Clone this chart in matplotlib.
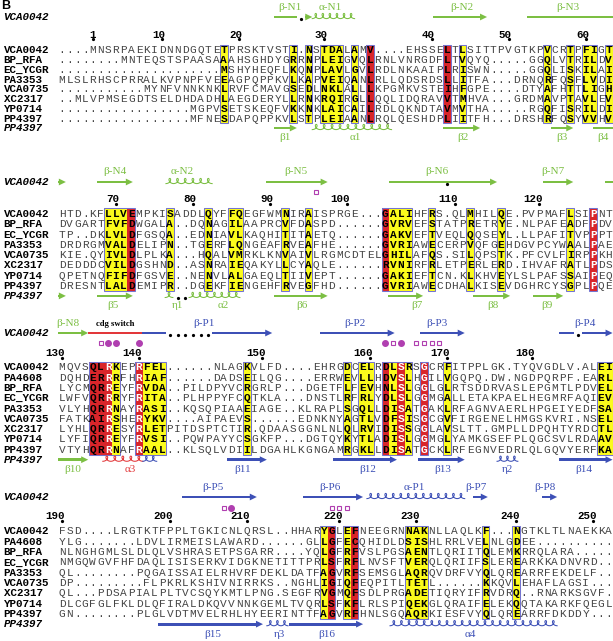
import numpy as np
import matplotlib
matplotlib.use("Agg")
import matplotlib.pyplot as plt
from matplotlib.patches import Rectangle, Polygon

# sequence names
names_a = ["VCA0042", "BP_RFA", "EC_YCGR", "PA3353", "VCA0735", "XC2317", "YP0714", "PP4397"]
names_b = ["VCA0042", "PA4608", "BP_RFA", "EC_YCGR", "PA3353", "VCA0735", "XC2317", "YP0714", "PP4397"]

# block 1
seq1 = [
    "....MNSRPAEKIDNNDGQTETPRSKTVSTI.NSTDALAMV....EHSSELTLSITTPVGTKPVCRTPFIGT",
    "........MNTEQSTSPAASAAAHSGHDYGRRNPLEIGVQLRNLVNRGDFLTVQYQ.....GGQLVTRILDV",
    ".....................MSHYHEQFLKQNPLAVLGVLRDLNKAAIPLRISWN.....GGQLISKILAI",
    "MLSLRHSCPRRALKVPNPFVEEAGPQPPKVLKAPVEIQANLRLLQDSRDSLLITFA...DRNQRFQSFLVDI",
    "...........MYNFVNNKNKLRVFCMAVGSEDLNKLALLLKPGMKVSTEIHFGPE....DTYAFHTTLIGH",
    "..MLVPMSEGDTSELDHDADHLAEGDERYLLRNKRQIRGLLQQLIDQRAVVTMHVA...GRDMAVPTAVLEV",
    ".................MGPVSETSKEQFVKKNKLAICAILRDLQKNDTAVMVTHA.....RGQFISRILDI",
    ".................MFNESDAPQPPKVLSTPLEIAANLRQLQESHDPLIITFH...DRSHRFQSYVVHV",
]
yellow1 = [22, 31, 33, 35, 36, 37, 39, 53, 64, 67, 69, 70, 72]
red1 = [41, 51]

# block 2
seq2 = [
    "HTD.KFLLVEMPKISADDLQYFFQEGFWMNIRAISPRGE...GALIHFRS.QLMHILQE.PVPMAFLSIPNT",
    "DVGARTFVFDWGALA..DQNAGILAAPRCVFDASPD......GVRVEFSTATPRETRYE.NLPAFEADFPDV",
    "TP..DKLVLDFGSQA..EDNIAVLKAQHITITAETQ......GAKVEFTVEQLQQSEYL.LLPAFITVPPPT",
    "DRDRGMVALDELIPN..TGERFLQNGEAFRVEAFHE......GVRIAWECERPVQFGEHDGVPCYWAALPAE",
    "KIE.QYIVLDLPLKA...HQALVMRKLKNVAIVLRGMCDTELGHILAFQS.SILQPSTK.PFCVLFIRPPKH",
    "DEDDDCVILDGSHND..ASNRAIEQAKYLLCYAQLE......RVNIRFRLETPERLERD.IHVAFRATLPDS",
    "QPETNQFIFDFGSVE..NENVLALGAEQLTIIVEPT......GAKIEFTCN.KLKHVEYLSLPAFSSAIPEQ",
    "DRESNTLALDEMIPR..DGEKFIENGEHFRVEGFHD......GVRIAWECDHALKISEVDGHRCYSGPLPQE",
]
yellow2 = [7, 8, 9, 15, 20, 23, 24, 30, 33, 44, 45, 46, 49, 54, 58, 67]
red2 = [10, 43, 70]

# block 3
seq3 = [
    "MQVSQLRKEPRFEL......NLAGKVLFD....EHRGDCELRDLSRSGCRFITPPLGK.TYQVGDLV.ALEI",
    "DQHDERRRFHRIAF......DADSEILQG....ERRWEVLLHDVSLHGILVGQPQ.DW.NGDPQRPF.EARL",
    "LYCMQRREYFRVDA..PILDPYVCRGRLP...DGETFLFEVHNLSLGGLGLRTSDDRVASLEPGMTLPDVEL",
    "LWFVQRRRYFRITA..PLHPPYFCQTKLA...DNSTLRFRLYDLSLGGMGALLETAKPAELHEGMRFAQIEV",
    "VLYHQRRNAYRASI..KQSQPIAAEIAGE..KLRAPLSGQLLDISATGAKLRFAGNVAERLHPGEIYEDFSA",
    "FATKAIRSHERYKV....AIPAEVS......EDNKNYAGTLVDFSISGCGVFIRGENELHMGSKVRI.NSEL",
    "LYHLQRRESYRLETPITDSPTCTIR.QDAASGGNLNLQLRVIDISSGGLAVSLTT.GMPLLDPQHTYRDCTL",
    "LYFIQRREYFRVSI..PQWPAYYCSGKFP...DGTQYKYTLADISLGGMGLYAMKGSEFPLQGCSVLRDAAV",
    "VTYHQRRNAFRAAL..KLSQLVDIILDGAHLKGNGAMRGKLLDISATGCKLRFEGNVEDRLQLGQVYERFKA",
]
yellow3 = [8, 12, 13, 14, 25, 38, 40, 41, 44, 46, 51, 71, 72]
red3 = [5, 6, 7, 11, 43, 45, 48]

# block 4
seq4 = [
    "FSD....LRGTKTFPPLTGKICNLQRSL..HHARYGLEFNEEGRNNAKNLLAQLKF...NGTKLTLNAEKKA",
    "YLG.......LDVLIRMEISLAWARD......GLLGFECQHIDLDSISHLRRLVELNLGDEE..........",
    "NLNGHGMLSLDLQLVSHRASETPSGARR....YQLGFRFVSLPGSAENTLQRIITQLEMKRRQLARA.....",
    "NMGQWGVFHFDAQLISISERKVIDGKNETITTPRLSFRFLNVSFTVERQLQRIIFSLEREARKKADNVRD..",
    "QL........PQGAISSAIELRHVRFDEKLDATFAGVRFSEMSGLAQRQVDRFVYQLQREARRFEKDELF..",
    "DP.........FLPKRLKSHIVNIRRKS..NGHLIGIQFEQPITLTETL......KKQVLEHAFLAGSI...",
    "QL...PDSAPIALPLTVCSQYKMTLPNG.SEGFRVGMQFSDLPRGADETIQRYIFRVDRQ..RNARKSGVF.",
    "DLCGFGLFKLDLQFIRALDKQVVNNKGEMLTVQRLSFKFLRLSPIQEKGLQRAIFELEKQQTAKARKFQEGL",
    "GN........PLGLVDTMVELRHLHYEERINTTFAGVRFHNLSGQAQRKIESFVYQLQREARRFDKDDY...",
]
yellow4 = [35, 38, 46, 47, 48, 56, 60]
red4 = [36, 39]

# first VCA0042 residue of each block
start_res = [1, 64, 130, 190]

# secondary structure: (kind, first col, last col, colour, label, label col, gap cols)
ss1_top = [
    ("strand", 29, 33, "g", "β-N1", 30.6, [32]),
    ("helix", 34, 38.5, "g", "α-N1", 35.8, []),
    ("strand", 49.7, 55.7, "g", "β-N2", 52.9, []),
    ("bar", 61.9, 72, "g", "β-N3", 66.7, []),
]
ss1_bot = [
    ("strand", 29, 31, "g", "β1", 30.0, []),
    ("helix", 34, 43.3, "g", "α1", 39.1, []),
    ("strand", 51, 54.8, "g", "β2", 53.1, []),
    ("strand", 65, 66.9, "g", "β3", 65.9, []),
    ("bar", 70.5, 72, "g", "β4", 71.3, []),
]
ss2_top = [
    ("strand", 1, 1, "g", "", 0, []),
    ("strand", 6, 9.7, "g", "β-N4", 7.9, []),
    ("helix", 15, 20, "g", "α-N2", 16.6, []),
    ("strand", 28, 35, "g", "β-N5", 31.4, []),
    ("strand", 44, 57, "g", "β-N6", 49.7, []),
    ("strand", 64, 66.9, "g", "β-N7", 64.8, []),
    ("bar", 72, 72, "g", "", 0, []),
]
ss2_bot = [
    ("strand", 1, 1, "g", "", 0, []),
    ("strand", 6, 9.7, "g", "β5", 7.6, []),
    ("helix", 14.9, 14.9, "g", "η1", 16.0, []),
    ("helix", 18, 23.6, "g", "α2", 21.9, []),
    ("strand", 29, 35, "g", "β6", 32.2, []),
    ("strand", 43.8, 47.4, "g", "β7", 47.1, []),
    ("strand", 54.9, 58.7, "g", "β8", 57.0, []),
    ("strand", 62.7, 65.6, "g", "β9", 64.0, []),
]
ss3_top = [
    ("strand", 1, 3.9, "g", "β-N8", 1.8, []),
    ("bar", 4.9, 10.9, "r", "cdg switch", 7.9, []),
    ("strand", 11.9, 27.8, "b", "β-P1", 19.4, [15, 16, 17, 18, 19, 20]),
    ("strand", 35, 43.7, "b", "β-P2", 39.1, []),
    ("strand", 48, 52.8, "b", "β-P3", 49.7, []),
    ("strand", 66, 72, "b", "β-P4", 68.9, [68]),
]
ss3_bot = [
    ("strand", 1, 3.9, "g", "β10", 2.4, []),
    ("helix", 6.8, 11, "r", "α3", 9.8, []),
    ("helix", 12, 12.8, "b", "", 0, []),
    ("strand", 22.9, 27.1, "b", "β11", 24.5, []),
    ("strand", 36.7, 44, "b", "β12", 40.7, []),
    ("strand", 47.7, 52.8, "b", "β13", 50.5, []),
    ("helix", 58, 59.7, "b", "η2", 58.8, []),
    ("strand", 66, 72, "b", "β14", 68.7, []),
]
ss4_top = [
    ("strand", 17.1, 25.8, "b", "β-P5", 20.6, []),
    ("strand", 32.8, 39.6, "b", "β-P6", 35.8, []),
    ("helix", 41.1, 52.8, "b", "α-P1", 46.8, []),
    ("strand", 54.9, 55.8, "b", "β-P7", 54.8, []),
    ("strand", 63.9, 64.8, "b", "β-P8", 63.7, []),
]
ss4_bot = [
    ("strand", 14, 26.6, "b", "β15", 20.6, []),
    ("helix", 28.1, 29.85, "b", "η3", 29.3, []),
    ("strand", 31, 39.6, "b", "β16", 35.4, []),
    ("helix", 44.1, 64.8, "b", "α4", 54.0, []),
]
# extra gap dots in the structure rows
dots_top = [[], [51], [], []]
dots_bot = [[], [16, 17], [], []]

# residue marks (square = open, dot = filled)
sym1 = []
sym2 = [("sq", 34)]
sym3 = [("sq", 6), ("dot", 7), ("dot", 8), ("dot", 11), ("dot", 43), ("sq", 44),
        ("dot", 45), ("sq", 47), ("sq", 48), ("sq", 49), ("sq", 50)]
sym4 = [("sq", 22), ("dot", 23), ("sq", 36), ("sq", 37), ("sq", 38)]

# ---------------- drawing ----------------
X0, DX = 62.0, 7.7
MONO = ["Liberation Mono", "DejaVu Sans Mono"]
SERIF = ["Liberation Serif", "DejaVu Serif"]
COL = {"g": "#7cbf43", "b": "#3d50b6", "r": "#e2383a"}
YEL = "#fbfb1c"
RED = "#d9252a"
FRAME = "#7474d0"
MAG = "#b03fb0"

fig = plt.figure(figsize=(6.13, 6.41), dpi=100)
ax = fig.add_axes([0, 0, 1, 1])
ax.set_xlim(0, 613)
ax.set_ylim(641, 0)
ax.axis("off")


def cx(c):
    return X0 + (c - 1) * DX


def left(c):
    return cx(c) - DX / 2


def right(c):
    return cx(c) + DX / 2


def bar(xa, xb, y, col):
    ax.add_patch(Rectangle((xa, y - 1.35), xb - xa, 2.7, fc=col, ec="none", zorder=4))


def arrow(xa, xb, y, col, hl=7.0):
    if xb - xa > hl:
        bar(xa, xb - hl + 0.5, y, col)
        xs = xb - hl
    else:
        xs = xa
    ax.add_patch(Polygon([(xs, y - 3.4), (xb, y), (xs, y + 3.4)], closed=True,
                         fc=col, ec="none", zorder=4))


def gapdot(c, y):
    ax.plot(cx(c), y + 2.2, "o", ms=1.3, color="black", zorder=4)


def strand(first, last, y, col, head, gaps):
    segs = []
    s = first
    for g in sorted(gaps):
        if first <= g <= last:
            if g - 1 >= s - 0.01:
                segs.append((s, g - 1))
            s = g + 1
            gapdot(g, y)
    segs.append((s, last))
    for k, (a, b) in enumerate(segs):
        if head and k == len(segs) - 1:
            arrow(left(a), right(b), y, col)
        else:
            bar(left(a), right(b), y, col)


def helix(first, last, y, col):
    xa, xb = left(first), right(last)
    n = max(1, int(round((xb - xa) / DX)))
    p = (xb - xa) / n
    t = np.linspace(0, n, n * 40 + 1)
    x = xa + p * t + 0.32 * p * np.sin(2 * np.pi * t)
    yy = y + 1.6 - 2.6 * (1 - np.cos(2 * np.pi * t))
    ax.plot(x, yy, color=col, lw=0.75, zorder=4)


def draw_ss(elems, y, ylab):
    for kind, a, b, ck, lab, lc, gaps in elems:
        col = COL[ck]
        if kind == "helix":
            helix(a, b, y, col)
        else:
            strand(a, b, y, col, kind == "strand", gaps)
        if lab == "cdg switch":
            ax.text(cx(lc), ylab + 0.5, lab, ha="center", va="center", fontsize=6.2,
                    family=SERIF, weight="bold", color="black")
        elif lab:
            ax.text(cx(lc), ylab, lab, ha="center", va="center", fontsize=8,
                    family=SERIF, color=col)


# panel letter
ax.text(1, 8.6, "B", ha="left", va="baseline", fontsize=9, weight="bold",
        family=["Liberation Sans", "DejaVu Sans"])

blocks = [
    (names_a, seq1, yellow1, red1, ss1_top, ss1_bot, sym1),
    (names_a, seq2, yellow2, red2, ss2_top, ss2_bot, sym2),
    (names_b, seq3, yellow3, red3, ss3_top, ss3_bot, sym3),
    (names_b, seq4, yellow4, red4, ss4_top, ss4_bot, sym4),
]
# vertical layout of each block: label, structure row, marks, numbers, first row, row step
layout = [
    (7, 17, None, 34.5, 50.0, 9.75),
    (172, 182, 192, 199.5, 213.5, 10.3),
    (323, 333, 343, 353, 367.0, 10.3),
    (487, 497, 508, 516, 531.0, 10.35),
]

for bi, (names, seqs, yel, red, ss_top, ss_bot, syms) in enumerate(blocks):
    ylab, yss, ysym, ynum, row0, rsp = layout[bi]
    seqs = [s.ljust(72, ".")[:72] for s in seqs]
    n = len(seqs)
    ytop = row0 - rsp / 2
    hgt = n * rsp

    # shaded columns
    for c in yel:
        ax.add_patch(Rectangle((left(c), ytop), DX, hgt, fc=YEL, ec="none", zorder=1))
    for c in red:
        ax.add_patch(Rectangle((left(c), ytop), DX, hgt, fc=RED, ec="none", zorder=1))
    # frames around runs of shaded columns
    cols = sorted(set(yel) | set(red))
    runs = []
    for c in cols:
        if runs and c == runs[-1][1] + 1:
            runs[-1][1] = c
        else:
            runs.append([c, c])
    for a, b in runs:
        ax.add_patch(Rectangle((left(a), ytop), right(b) - left(a), hgt, fc="none",
                               ec=FRAME, lw=0.75, zorder=3))

    # residues
    for i, s in enumerate(seqs):
        y = row0 + i * rsp
        ax.text(3.5, y + 3.4, names[i], ha="left", va="baseline", fontsize=7.8,
                family=MONO, weight="bold", color="black")
        for j, ch in enumerate(s):
            c = j + 1
            if c in red:
                same = len(set(q[j] for q in seqs)) == 1
                kw = dict(weight="bold", color="white" if same else "black")
            elif c in yel:
                kw = dict(weight="bold", color="black")
            else:
                kw = dict(weight="normal", color="#454545")
            ax.text(cx(c), y + 3.4, ch, ha="center", va="baseline", fontsize=8.0,
                    family=MONO, zorder=5, **kw)

    # numbering from the first sequence
    r = start_res[bi]
    for j, ch in enumerate(seqs[0]):
        if ch == ".":
            continue
        if r == 1 or r % 10 == 0:
            ax.text(cx(j + 1) + 3.3, ynum, str(r), ha="right", va="center",
                    fontsize=7.8, family=MONO, weight="bold")
            ax.plot(cx(j + 1), ynum + 4.8, "o", ms=1.3, color="black")
        r += 1

    # residue marks
    if ysym is not None:
        for kind, c in syms:
            if kind == "sq":
                ax.plot(cx(c), ysym, "s", ms=3.4, mfc="none", mec=MAG, mew=0.8)
            else:
                ax.plot(cx(c), ysym, "o", ms=4.0, color=MAG)

    # secondary structure rows
    ybot = row0 + n * rsp
    ax.text(3.5, yss + 3.3, "VCA0042", ha="left", va="baseline", fontsize=7.8,
            family=MONO, weight="bold", style="italic")
    ax.text(3.5, ybot + 3.3, "PP4397", ha="left", va="baseline", fontsize=7.8,
            family=MONO, weight="bold", style="italic")
    draw_ss(ss_top, yss, ylab)
    draw_ss(ss_bot, ybot, ybot + 10)
    for c in dots_top[bi]:
        gapdot(c, yss)
    for c in dots_bot[bi]:
        gapdot(c, ybot)

fig.savefig("out.png", dpi=100)
